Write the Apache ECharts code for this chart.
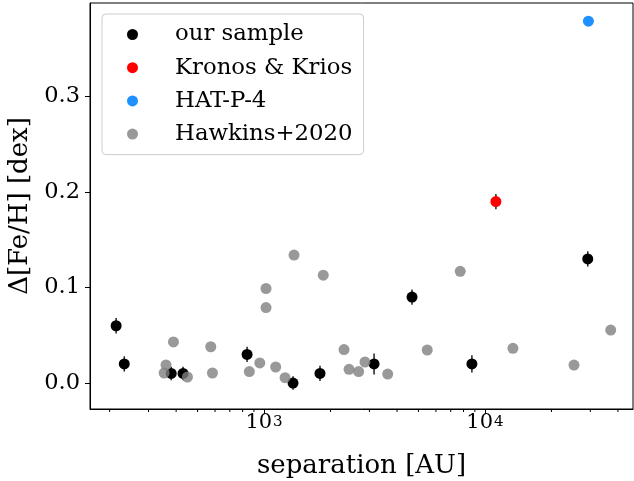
<!DOCTYPE html>
<html><head><meta charset="utf-8">
<script src="https://cdn.jsdelivr.net/npm/echarts@6/dist/echarts.min.js"></script>
<style>html,body{margin:0;padding:0;background:#fff}#c{width:634px;height:481px}</style>
</head><body><div id="c"></div><script>
// ---- data ----
const sampleSep = [214, 233, 380, 430, 838, 1353, 1792, 3148, 4677, 8730, 29200];
const sampleFeH = [0.060, 0.020, 0.010, 0.010, 0.030, 0.000, 0.010, 0.020, 0.090, 0.020, 0.130];
const sampleErr = [0.008, 0.008, 0.007, 0.007, 0.008, 0.007, 0.008, 0.011, 0.008, 0.009, 0.008];
const kronosSep = [11210];
const kronosFeH = [0.190];
const kronosErr = [0.008];
const hatSep = [29400];
const hatFeH = [0.379];
const hawkinsSep = [353, 360, 389, 450, 574, 584, 858, 957, 1021, 1021, 1129, 1245, 1367, 1854, 2302, 2426, 2680, 2864, 3630, 5480, 7730, 13390, 25300, 37100];
const hawkinsFeH = [0.0105, 0.019, 0.043, 0.0063, 0.038, 0.0105, 0.012, 0.021, 0.099, 0.079, 0.0168, 0.0056, 0.134, 0.113, 0.035, 0.0143, 0.012, 0.022, 0.0094, 0.0346, 0.117, 0.0363, 0.0188, 0.0555];
const xMajorTicks = [1000, 10000];
const xMinorTicks = [200, 300, 400, 500, 600, 700, 800, 900, 2000, 3000, 4000, 5000, 6000, 7000, 8000, 9000, 20000, 30000, 40000];
const yTicks = [0, 0.1, 0.2, 0.3];
const seriesNames = ['our sample', 'Kronos & Krios', 'HAT-P-4', 'Hawkins+2020'];

// ---- chart ----
const F = 'DejaVu Serif';
const X_MIN = 163, X_MAX = 46800, Y_MIN = -0.0272, Y_MAX = 0.398;
const zip = (a, b) => a.map((v, i) => [v, b[i]]);
const errData = zip(sampleSep, sampleFeH).map((d, i) => [d[0], d[1], sampleErr[i]])
  .concat(zip(kronosSep, kronosFeH).map((d, i) => [d[0], d[1], kronosErr[i]]));

const chart = echarts.init(document.getElementById('c'), null, {renderer: 'canvas'});
const option = {
  animation: false,
  backgroundColor: '#fff',
  grid: {left: 90, right: 1, top: 3, bottom: 72, show: true, borderColor: '#000', borderWidth: 1,
         backgroundColor: 'transparent', containLabel: false, outerBoundsMode: 'none'},
  xAxis: {
    type: 'log', logBase: 10, min: X_MIN, max: X_MAX,
    name: 'separation [AU]', nameLocation: 'middle', nameGap: 44,
    nameTextStyle: {fontFamily: F, fontSize: 26, color: '#000'},
    axisLine: {onZero: false, lineStyle: {color: '#000', width: 1}},
    axisTick: {customValues: xMajorTicks, length: 5, lineStyle: {color: '#000', width: 1}},
    axisLabel: {
      customValues: xMajorTicks, margin: 6, color: '#000', fontFamily: F, fontSize: 21,
      formatter: v => '{b|10}{s|' + Math.round(Math.log10(v)) + '}',
      rich: {
        b: {fontFamily: F, fontSize: 21, color: '#000', lineHeight: 18, verticalAlign: 'bottom'},
        s: {fontFamily: F, fontSize: 15, color: '#000', lineHeight: 18, verticalAlign: 'top', padding: [0, 0, 8, 1]}
      }
    },
    splitLine: {show: false}
  },
  yAxis: {
    type: 'value', min: Y_MIN, max: Y_MAX,
    name: 'Δ[Fe/H] [dex]', nameLocation: 'middle', nameGap: 53,
    nameTextStyle: {fontFamily: F, fontSize: 26, color: '#000'},
    axisLine: {show: true, onZero: false, lineStyle: {color: '#000', width: 1}},
    axisTick: {show: true, customValues: yTicks, length: 5, lineStyle: {color: '#000', width: 1}},
    axisLabel: {customValues: yTicks, margin: 10, fontFamily: F, fontSize: 22.5, color: '#000', formatter: v => v.toFixed(1)},
    splitLine: {show: false}
  },
  legend: {
    orient: 'vertical', left: 102, top: 14,
    data: seriesNames,
    padding: [9, 11, 9, 25], itemGap: 10.2, itemWidth: 11, itemHeight: 11,
    borderColor: '#cccccc', borderWidth: 1, borderRadius: 4,
    backgroundColor: 'rgba(255,255,255,0.8)',
    textStyle: {fontFamily: F, fontSize: 22.8, color: '#000', lineHeight: 22, padding: [0, 0, 0, 32]}
  },
  series: [
    {
      type: 'custom', name: 'minorTicks', silent: true, z: 1, clip: false,
      data: xMinorTicks.map(v => [v, Y_MIN]),
      renderItem: (params, api) => {
        const p = api.coord([api.value(0), Y_MIN]);
        return {type: 'line', shape: {x1: p[0], y1: p[1], x2: p[0], y2: p[1] + 3}, style: {stroke: '#000', lineWidth: 1}};
      }
    },
    {
      type: 'custom', name: 'errorbars', silent: true, z: 2,
      data: errData,
      renderItem: (params, api) => {
        const x = api.value(0), y = api.value(1), e = api.value(2);
        const a = api.coord([x, y - e]), b = api.coord([x, y + e]);
        return {type: 'line', shape: {x1: a[0], y1: a[1], x2: b[0], y2: b[1]}, style: {stroke: '#222', lineWidth: 1.5}};
      }
    },
    {type: 'scatter', name: seriesNames[0], z: 3, symbolSize: 11, itemStyle: {color: '#000', opacity: 1}, data: zip(sampleSep, sampleFeH)},
    {type: 'scatter', name: seriesNames[1], z: 3, symbolSize: 11, itemStyle: {color: '#ff0000', opacity: 1}, data: zip(kronosSep, kronosFeH)},
    {type: 'scatter', name: seriesNames[2], z: 3, symbolSize: 11, itemStyle: {color: '#1e90ff', opacity: 1}, data: zip(hatSep, hatFeH)},
    {type: 'scatter', name: seriesNames[3], z: 3, symbolSize: 11, itemStyle: {color: '#808080', opacity: 0.8}, data: zip(hawkinsSep, hawkinsFeH)}
  ]
};
chart.setOption(option);
</script></body></html>
